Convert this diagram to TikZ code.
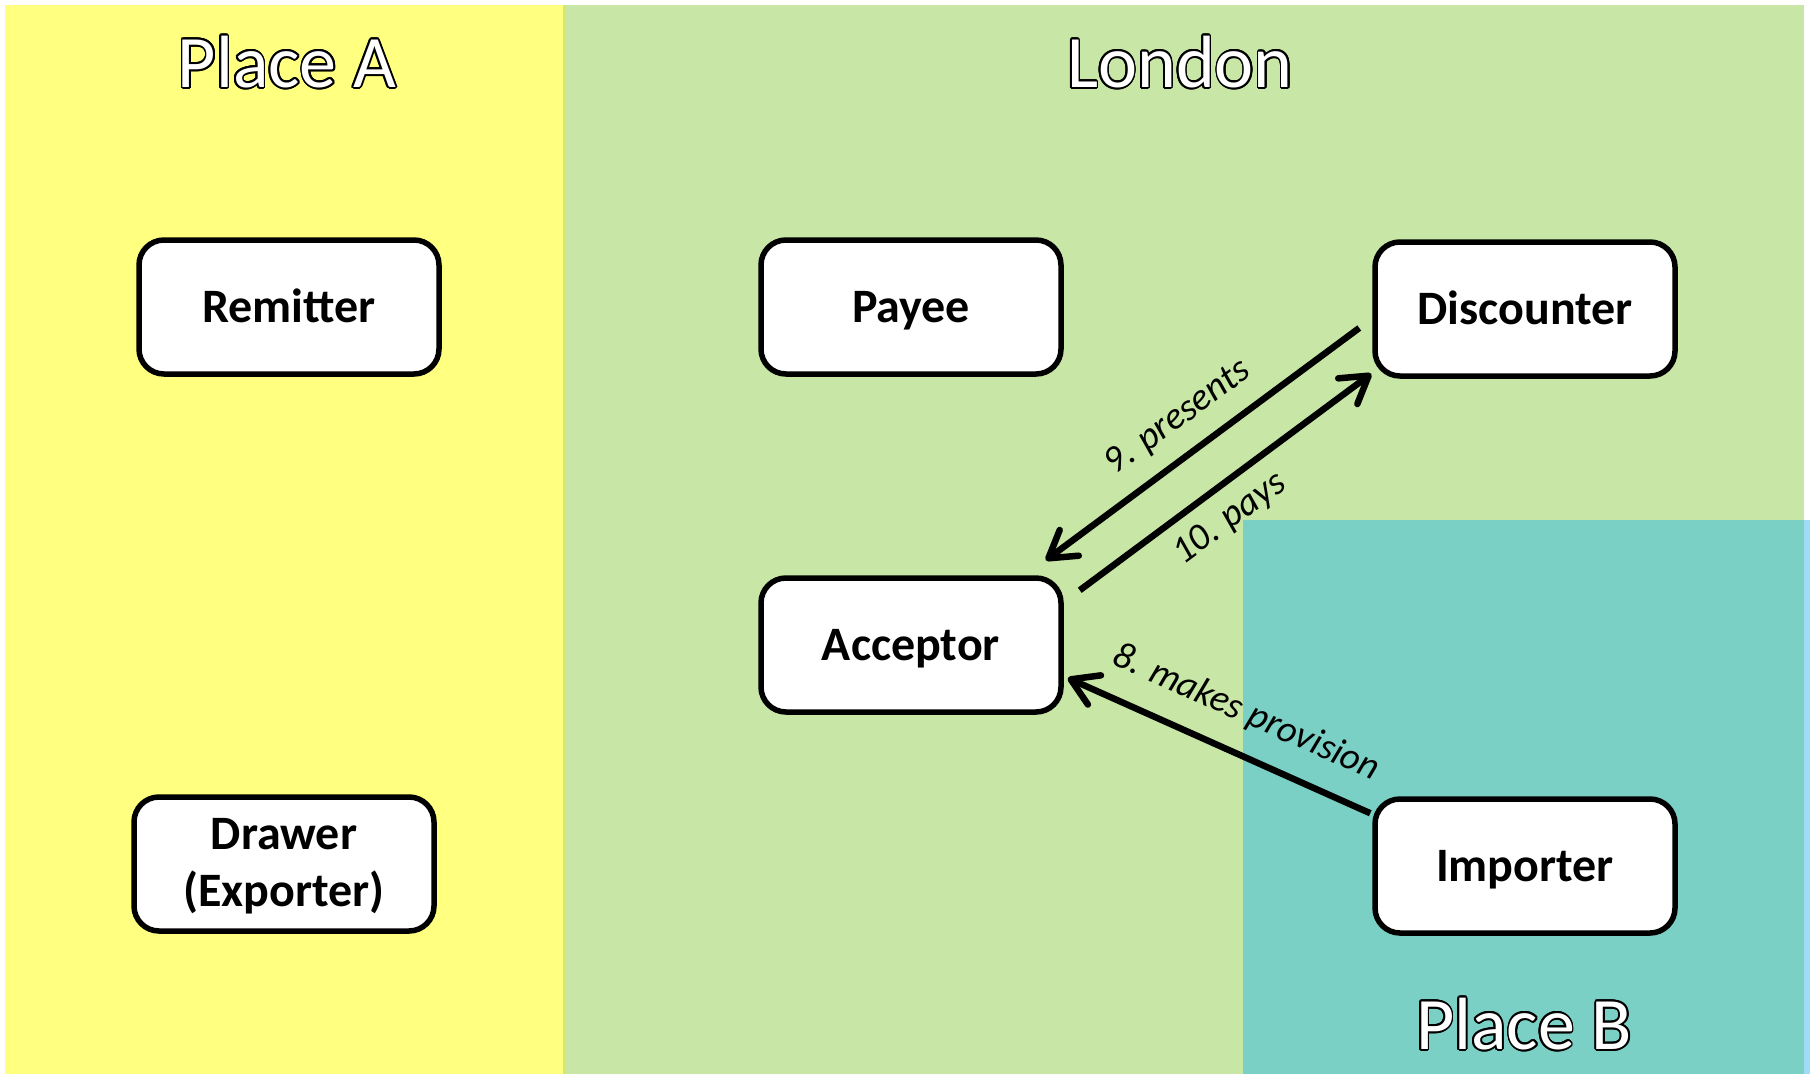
\documentclass[tikz,border=0pt]{standalone}
\usepackage{fontspec}
\setmainfont{Carlito}
\usetikzlibrary{arrows.meta,calc}
\definecolor{cYellow}{RGB}{255,255,128}
\definecolor{cGreen}{RGB}{200,230,165}
\definecolor{cSep}{RGB}{212,232,106}
\definecolor{cTeal}{RGB}{122,208,196}
\definecolor{cBlue}{RGB}{160,220,245}
\begin{document}
\begin{tikzpicture}[x=1pt,y=-1pt,
  box/.style={draw=black, line width=5.5pt, fill=white, rounded corners=25pt,
    minimum width=300pt, minimum height=134pt, inner sep=0pt,
    font=\fontsize{48}{57}\selectfont\bfseries, align=center},
  onebox/.style={box, text height=31.5pt, text depth=0pt},
  lbl/.style={font=\fontsize{38}{46}\selectfont\itshape, inner sep=0pt},
  arr/.style={line width=6.5pt, -{Straight Barb[length=26pt,width=32pt,round]}},
  ttl/.style={font=\fontsize{74}{80}\selectfont, inner sep=0pt}]
\useasboundingbox (0,0) rectangle (1810,1074);
% backgrounds
\fill[white] (0,0) rectangle (1810,1074);
\fill[cYellow] (5,5) rectangle (563,1074);
\fill[cGreen] (563,5) rectangle (1804,1074);
\fill[cSep] (563,5) rectangle (566,1074);
\fill[cTeal] (1243,520) rectangle (1804,1074);
\fill[cBlue] (1804,520) rectangle (1810,1074);
% titles with outline
\foreach \a in {0,20,...,340} {
  \node[ttl,text=black] (tAo\a) at ($(287,62)+(\a:1.7)$) {Place A};
  \node[ttl,text=black] (tLo\a) at ($(1180,62)+(\a:1.7)$) {London};
  \node[ttl,text=black] (tBo\a) at ($(1524,1024)+(\a:1.7)$) {Place B};
}
\node[ttl,text=white] (tA) at (287,62) {Place A};
\node[ttl,text=white] (tL) at (1180,62) {London};
\node[ttl,text=white] (tB) at (1524,1024) {Place B};
% boxes
\node[onebox] (rem) at (289,307) {Remitter};
\node[onebox] (pay) at (911,307) {Payee};
\node[onebox] (disc) at (1525,309) {Discounter};
\node[onebox] (acc) at (911,645) {Acceptor};
\node[box, text depth=3pt] (drw) at (284,864) {Drawer\\(Exporter)};
\node[onebox] (imp) at (1525,866) {Importer};
% connectors
\draw[arr] ([shift={(-13,19)}]disc.west) -- ([shift={(-18,-15)}]acc.north east);
\draw[arr] ([shift={(16,15)}]acc.north east) -- ([shift={(-1,-5)}]disc.south west);
\draw[arr] ([shift={(-2,17)}]imp.north west) -- ([shift={(4,33)}]acc.east);
% labels
\node[lbl, rotate=36.3] (l9) at (1178,418) {9. presents};
\node[lbl, rotate=36.5] (l10) at (1230,519) {10. pays};
\node[lbl, rotate=-24] (l8) at (1246,713) {8. makes provision};
\end{tikzpicture}
\end{document}
